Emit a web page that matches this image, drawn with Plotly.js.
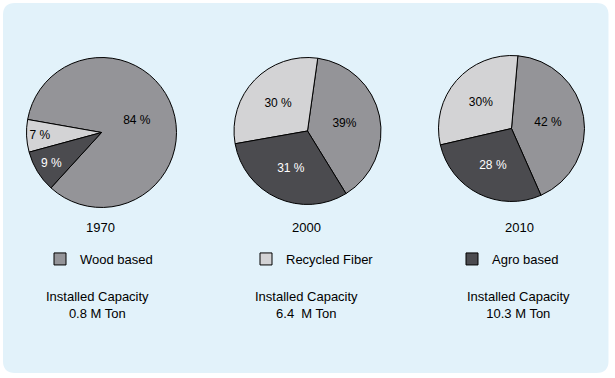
<!DOCTYPE html>
<html>
<head>
<meta charset="utf-8">
<script src="https://cdn.plot.ly/plotly-3.0.1.min.js"></script>
<style>html,body{margin:0;padding:0;background:#fff;overflow:hidden;}#chart{width:615px;height:378px;}</style>
</head>
<body>
<div id="chart"></div>
<script>
// ---- data ----
var sliceLabels = ['Wood based', 'Recycled Fiber', 'Agro based'];
var years = ['1970', '2000', '2010'];
var values1970 = [84, 7, 9];
var values2000 = [39, 30, 31];
var values2010 = [42, 30, 28];
var text1970 = ['84 %', '7 %', '9 %'];
var text2000 = ['39%', '30 %', '31 %'];
var text2010 = ['42 %', '30%', '28 %'];
var capacityLines = ['Installed Capacity<br>0.8 M Ton', 'Installed Capacity<br>6.4  M Ton', 'Installed Capacity<br>10.3 M Ton'];

var sliceColors = ['#949498', '#d3d3d5', '#4b4b4f'];
var textColors = ['#000000', '#000000', '#ffffff'];
var FONT = 'Liberation Sans, Arial, sans-serif';

function pie(values, text, domainX, domainY, rotation, showlegend) {
  return {
    type: 'pie',
    labels: sliceLabels,
    values: values,
    text: text,
    textinfo: 'text',
    textposition: 'inside',
    insidetextorientation: 'horizontal',
    insidetextfont: {family: FONT, size: 12, color: textColors},
    sort: false,
    direction: 'counterclockwise',
    rotation: rotation,
    marker: {colors: sliceColors, line: {color: '#000000', width: 1}},
    domain: {x: domainX, y: domainY},
    showlegend: showlegend,
    hoverinfo: 'label+value'
  };
}

var traces = [
  pie(values1970, text1970, [0.0431, 0.2870], [0.4511, 0.8479], 280, true),
  pie(values2000, text2000, [0.3805, 0.6195], [0.4590, 0.8479], 8, false),
  pie(values2010, text2010, [0.7130, 0.9504], [0.4669, 0.8532], 5, false)
];

// rounded panel path in paper coords
var W = 615, H = 378, rad = 12;
var px0 = 3, px1 = 608.5, py0 = 3, py1 = 373;
function X(p) { return (p / W).toFixed(5); }
function Y(p) { return (1 - p / H).toFixed(5); }
var panelPath = 'M' + X(px0 + rad) + ',' + Y(py0) +
  ' L' + X(px1 - rad) + ',' + Y(py0) +
  ' Q' + X(px1) + ',' + Y(py0) + ' ' + X(px1) + ',' + Y(py0 + rad) +
  ' L' + X(px1) + ',' + Y(py1 - rad) +
  ' Q' + X(px1) + ',' + Y(py1) + ' ' + X(px1 - rad) + ',' + Y(py1) +
  ' L' + X(px0 + rad) + ',' + Y(py1) +
  ' Q' + X(px0) + ',' + Y(py1) + ' ' + X(px0) + ',' + Y(py1 - rad) +
  ' L' + X(px0) + ',' + Y(py0 + rad) +
  ' Q' + X(px0) + ',' + Y(py0) + ' ' + X(px0 + rad) + ',' + Y(py0) + ' Z';

var yearX = [100, 306, 519];
var capX = [97, 306, 518];
var annotations = [];
for (var i = 0; i < years.length; i++) {
  annotations.push({
    text: years[i], xref: 'paper', yref: 'paper',
    x: yearX[i] / W, y: 1 - 227.5 / H, xanchor: 'center', yanchor: 'middle',
    showarrow: false, font: {family: FONT, size: 13, color: '#000'}
  });
  annotations.push({
    text: capacityLines[i], xref: 'paper', yref: 'paper',
    x: capX[i] / W, y: 1 - 304.5 / H, xanchor: 'center', yanchor: 'middle',
    showarrow: false, font: {family: FONT, size: 13, color: '#000'}
  });
}

var layout = {
  width: 615, height: 378,
  margin: {l: 0, r: 0, t: 0, b: 0, autoexpand: false},
  paper_bgcolor: '#ffffff',
  font: {family: FONT, size: 13, color: '#000'},
  showlegend: true,
  legend: {
    orientation: 'h', x: 40 / W, xanchor: 'left', y: 1 - 259 / H, yanchor: 'middle',
    bgcolor: 'rgba(0,0,0,0)', font: {family: FONT, size: 13, color: '#000'},
    entrywidth: 161, entrywidthmode: 'pixels', traceorder: 'normal'
  },
  shapes: [{
    type: 'path', xref: 'paper', yref: 'paper', path: panelPath,
    fillcolor: '#e2f2fa', line: {width: 0}, layer: 'below'
  }],
  annotations: annotations
};

Plotly.newPlot('chart', traces, layout, {displayModeBar: false, staticPlot: true});
</script>
</body>
</html>
